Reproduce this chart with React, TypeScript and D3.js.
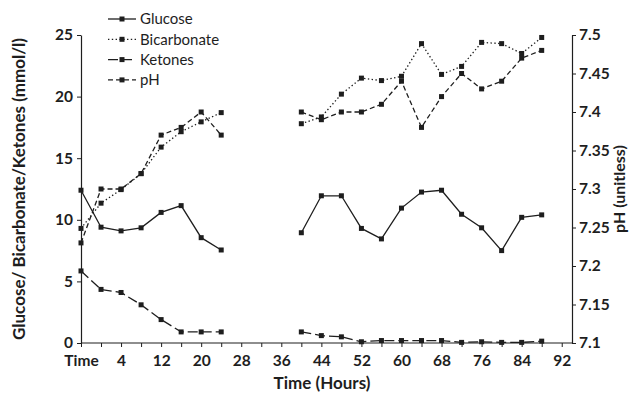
import { useEffect, useRef } from 'react';
import * as d3 from 'd3';

// category axis: first slot is labelled "Time", then hours 0..92 every 4 h
const CATEGORIES = [
  'Time', '0', '4', '8', '12', '16', '20', '24', '28', '32', '36', '40', '44',
  '48', '52', '56', '60', '64', '68', '72', '76', '80', '84', '88', '92',
];
const SHOWN_LABELS = ['Time', '4', '12', '20', '28', '36', '44', '52', '60', '68', '76', '84', '92'];

// mmol/l (left axis); null = no sample
const GLUCOSE = [12.4, 9.4, 9.1, 9.35, 10.6, 11.15, 8.55, 7.55, null, null, null,
  8.95, 11.95, 11.95, 9.3, 8.45, 10.95, 12.25, 12.4, 10.45, 9.35, 7.5, 10.2, 10.4];
const BICARBONATE = [9.3, 11.35, 12.45, 13.75, 15.9, 17.15, 17.95, 18.7, null, null, null,
  17.8, 18.35, 20.2, 21.5, 21.3, 21.65, 24.3, 21.8, 22.45, 24.4, 24.3, 23.5, 24.8];
const KETONES = [5.85, 4.35, 4.1, 3.1, 1.9, 0.9, 0.9, 0.9, null, null, null,
  0.9, 0.6, 0.5, 0.1, 0.2, 0.2, 0.2, 0.2, 0.05, 0.1, 0.05, 0.05, 0.15];
// unitless (right axis)
const PH = [7.23, 7.3, 7.3, 7.32, 7.37, 7.38, 7.4, 7.37, null, null, null,
  7.4, 7.39, 7.4, 7.4, 7.41, 7.44, 7.38, 7.42, 7.45, 7.43, 7.44, 7.47, 7.48];

const LEFT_TICKS = [0, 5, 10, 15, 20, 25];
const RIGHT_TICKS = [7.1, 7.15, 7.2, 7.25, 7.3, 7.35, 7.4, 7.45, 7.5];

const W = 641;
const H = 395;
const PLOT = { left: 81, right: 572, top: 35, bottom: 343 };
const STEP = 20.03;
const INK = '#1e1e1e';
const FONT = 'Lato, "Open Sans", sans-serif';

export default function App() {
  const svgRef = useRef<SVGSVGElement | null>(null);

  useEffect(() => {
    const svg = d3.select(svgRef.current);
    svg.selectAll('*').remove();

    const x = d3.scalePoint<string>()
      .domain(CATEGORIES)
      .range([PLOT.left, PLOT.left + STEP * (CATEGORIES.length - 1)]);
    const yL = d3.scaleLinear().domain([0, 25]).range([PLOT.bottom, PLOT.top]);
    const yR = d3.scaleLinear().domain([7.1, 7.5]).range([PLOT.bottom, PLOT.top]);

    const series = [
      { name: 'Glucose', values: GLUCOSE, y: yL, dash: null },
      { name: 'Bicarbonate', values: BICARBONATE, y: yL, dash: '1.4,2.4' },
      { name: 'Ketones', values: KETONES, y: yL, dash: '10,4' },
      { name: 'pH', values: PH, y: yR, dash: '5,3' },
    ];

    // x axis
    const xAxis = svg.append('g')
      .attr('transform', `translate(0,${PLOT.bottom})`)
      .call(d3.axisBottom(x).tickSize(4).tickSizeOuter(0)
        .tickFormat(d => (SHOWN_LABELS.includes(d) ? d : '')));
    xAxis.select('.domain').remove();
    xAxis.append('line')
      .attr('x1', PLOT.left).attr('x2', PLOT.right)
      .attr('stroke', INK).attr('stroke-width', 1.2);

    // left axis
    const left = svg.append('g')
      .attr('transform', `translate(${PLOT.left},0)`)
      .call(d3.axisLeft(yL).tickValues(LEFT_TICKS).tickSize(4).tickSizeOuter(0).tickPadding(4));

    // right axis
    const right = svg.append('g')
      .attr('transform', `translate(${PLOT.right},0)`)
      .call(d3.axisRight(yR).tickValues(RIGHT_TICKS).tickSize(4).tickSizeOuter(0).tickPadding(3)
        .tickFormat(d => d3.format('')(+(+d).toFixed(2))));

    [xAxis, left, right].forEach(a => {
      a.selectAll('.domain').attr('stroke', INK).attr('stroke-width', 1.2);
      a.selectAll('.tick line').attr('stroke', INK);
      a.selectAll('.tick text')
        .attr('fill', INK)
        .attr('font-family', FONT)
        .attr('font-weight', 700)
        .attr('font-size', 15.5);
    });
    xAxis.selectAll('.tick text').attr('dy', '1.05em');

    // series
    series.forEach(s => {
      const pts = s.values.map((v, i) => ({ c: CATEGORIES[i], v }));
      const line = d3.line<{ c: string; v: number | null }>()
        .defined(d => d.v != null)
        .x(d => x(d.c) as number)
        .y(d => s.y(d.v as number));
      svg.append('path')
        .datum(pts)
        .attr('fill', 'none')
        .attr('stroke', INK)
        .attr('stroke-width', 1.3)
        .attr('stroke-dasharray', s.dash)
        .attr('d', line);
      svg.append('g').selectAll('rect')
        .data(pts.filter(d => d.v != null))
        .join('rect')
        .attr('x', d => (x(d.c) as number) - 2.5)
        .attr('y', d => s.y(d.v as number) - 2.5)
        .attr('width', 5).attr('height', 5)
        .attr('fill', INK);
    });

    // legend
    const legend = svg.append('g');
    series.forEach((s, i) => {
      const ly = 19 + i * 20.3;
      legend.append('line')
        .attr('x1', 108).attr('x2', 136).attr('y1', ly).attr('y2', ly)
        .attr('stroke', INK).attr('stroke-width', 1.3)
        .attr('stroke-dasharray', s.dash);
      legend.append('rect')
        .attr('x', 119.5).attr('y', ly - 2.5).attr('width', 5).attr('height', 5)
        .attr('fill', INK);
      legend.append('text')
        .attr('x', 140).attr('y', ly).attr('dy', '0.35em')
        .attr('font-family', FONT).attr('font-size', 15).attr('fill', INK)
        .text(s.name);
    });

    // axis titles
    svg.append('text')
      .attr('x', 322).attr('y', 389)
      .attr('text-anchor', 'middle')
      .attr('font-family', FONT).attr('font-weight', 700).attr('font-size', 17).attr('fill', INK)
      .text('Time (Hours)');
    svg.append('text')
      .attr('transform', `translate(25,${(PLOT.top + PLOT.bottom) / 2}) rotate(-90)`)
      .attr('text-anchor', 'middle')
      .attr('font-family', FONT).attr('font-weight', 700).attr('font-size', 17).attr('fill', INK)
      .text('Glucose/ Bicarbonate/Ketones (mmol/l)');
    svg.append('text')
      .attr('transform', `translate(625,${(PLOT.top + PLOT.bottom) / 2}) rotate(-90)`)
      .attr('text-anchor', 'middle')
      .attr('font-family', FONT).attr('font-weight', 700).attr('font-size', 16).attr('fill', INK)
      .text('pH (unitless)');
  }, []);

  return (
    <svg
      ref={svgRef}
      width={W}
      height={H}
      style={{ position: 'absolute', left: 0, top: 0, background: '#fff', display: 'block' }}
    />
  );
}
